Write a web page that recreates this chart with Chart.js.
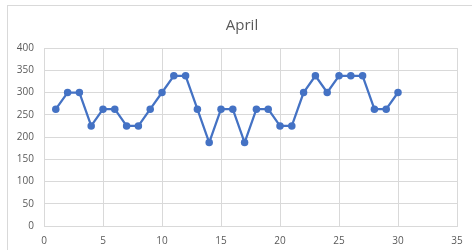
<!DOCTYPE html>
<html lang="en">
<head>
  <meta charset="UTF-8">
  <title>April</title>
  <script src="https://cdn.jsdelivr.net/npm/chart.js"></script>
  <style>
    * {
      margin: 0;
      padding: 0;
      box-sizing: border-box;
    }

    body {
      width: 472px;
      height: 250px;
      background-color: #fff;
      overflow: hidden;
    }

    .chart-box {
      position: relative;
      width: 472px;
      height: 250px;
    }

    /* outer chart frame, only top and left edges are visible */
    .frame {
      position: absolute;
      left: 7px;
      top: 5px;
      width: 500px;
      height: 300px;
      border: 1px solid #d9d9d9;
      pointer-events: none;
    }

    /* title sits a bit right of the canvas centre, like the original */
    .chart-title {
      position: absolute;
      left: 200px;
      top: 14px;
      width: 84px;
      line-height: 20px;
      text-align: center;
      font-family: 'Open Sans', sans-serif;
      font-size: 15px;
      color: #595959;
    }
  </style>
</head>
<body>
  <div class="chart-box">
    <canvas id="aprilChart" width="472" height="250"></canvas>
    <div class="frame"></div>
    <div class="chart-title">April</div>
  </div>

  <script>
    const days = [1, 2, 3, 4, 5, 6, 7, 8, 9, 10, 11, 12, 13, 14, 15, 16, 17, 18, 19, 20, 21, 22, 23, 24, 25, 26, 27, 28, 29, 30];
    const values = [262.5, 300, 300, 225, 262.5, 262.5, 225, 225, 262.5, 300, 337.5, 337.5, 262.5, 187.5, 262.5, 262.5, 187.5, 262.5, 262.5, 225, 225, 300, 337.5, 300, 337.5, 337.5, 337.5, 262.5, 262.5, 300];
    const xTicks = [0, 5, 10, 15, 20, 25, 30, 35];
    const yTicks = [0, 50, 100, 150, 200, 250, 300, 350, 400];

    const points = days.map((d, i) => ({ x: d, y: values[i] }));
    const grey = '#595959';
    const gridColor = '#d9d9d9';

    const ctx = document.getElementById('aprilChart').getContext('2d');
    new Chart(ctx, {
      type: 'line',
      data: {
        datasets: [{
          label: 'April',
          data: points,
          borderColor: '#4472c4',
          backgroundColor: '#4472c4',
          borderWidth: 2.25,
          pointRadius: 3.75,
          pointBorderWidth: 0,
          tension: 0
        }]
      },
      options: {
        responsive: false,
        animation: false,
        layout: {
          padding: { left: 0, right: 15, top: 48, bottom: 0 }
        },
        plugins: {
          legend: { display: false },
          tooltip: { enabled: false },
          title: { display: false }
        },
        scales: {
          x: {
            type: 'linear',
            min: xTicks[0],
            max: xTicks[xTicks.length - 1],
            afterBuildTicks: s => { s.ticks = xTicks.map(v => ({ value: v })); },
            afterFit: s => { s.height = 24; },
            grid: { color: gridColor, drawTicks: false },
            border: { color: gridColor },
            ticks: {
              color: grey,
              padding: 9,
              maxRotation: 0,
              font: { family: 'Open Sans', size: 10 }
            }
          },
          y: {
            min: yTicks[0],
            max: yTicks[yTicks.length - 1],
            afterBuildTicks: s => { s.ticks = yTicks.map(v => ({ value: v })); },
            afterFit: s => { s.width = 44; },
            grid: { color: gridColor, drawTicks: false },
            border: { color: gridColor },
            ticks: {
              color: grey,
              padding: 10,
              font: { family: 'Open Sans', size: 10 }
            }
          }
        }
      }
    });
  </script>
</body>
</html>
